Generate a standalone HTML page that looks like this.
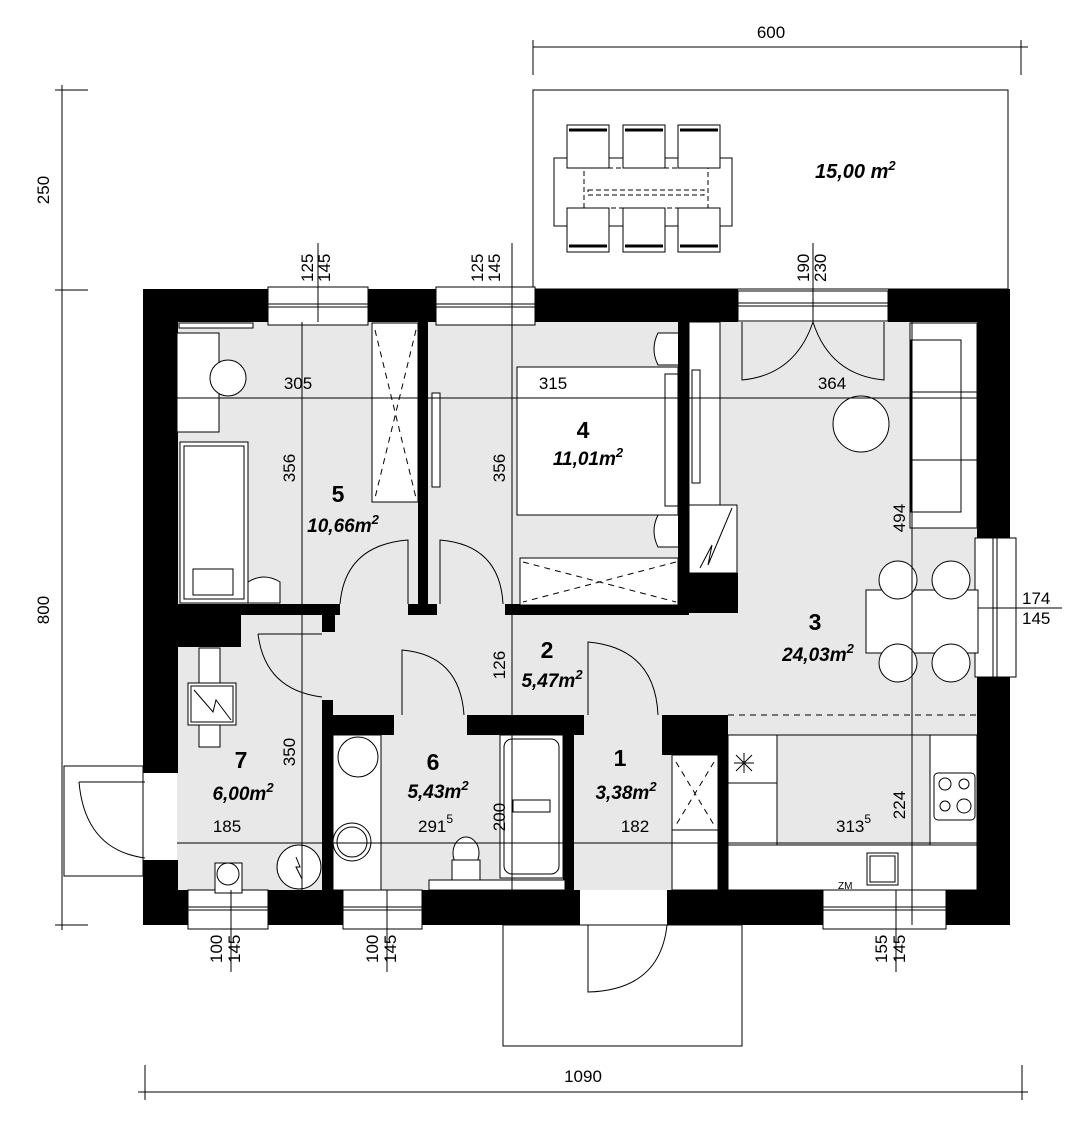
<!DOCTYPE html>
<html><head><meta charset="utf-8"><style>
html,body{margin:0;padding:0;background:#fff}
svg{display:block}
text{font-family:"Liberation Sans Narrow","Liberation Sans",sans-serif;fill:#000}
.d{font-size:17px}
.n{font-family:"Liberation Sans",sans-serif;font-weight:bold;font-size:23px}
.a{font-family:"Liberation Sans",sans-serif;font-weight:bold;font-style:italic;font-size:19px}
</style></head><body>
<svg width="1071" height="1137" viewBox="0 0 1071 1137" xmlns="http://www.w3.org/2000/svg">
<g fill="none" stroke="#000" stroke-width="1">
<rect x="533" y="90" width="475" height="199" fill="#fff"/>
<rect x="554" y="158" width="178" height="68"/>
<g fill="#fff">
<rect x="567" y="125" width="42" height="43"/><rect x="623" y="125" width="42" height="43"/><rect x="678" y="125" width="42" height="43"/>
<rect x="567" y="208" width="42" height="44"/><rect x="623" y="208" width="42" height="44"/><rect x="678" y="208" width="42" height="44"/>
</g>
<g stroke-width="3"><line x1="569" y1="130" x2="607" y2="130"/><line x1="625" y1="130" x2="663" y2="130"/><line x1="680" y1="130" x2="718" y2="130"/>
<line x1="569" y1="246" x2="607" y2="246"/><line x1="625" y1="246" x2="663" y2="246"/><line x1="680" y1="246" x2="718" y2="246"/></g>
<rect x="584" y="168" width="124" height="40" stroke-dasharray="5,3"/>
<rect x="588" y="190" width="116" height="5" stroke-dasharray="5,3"/>
<rect x="503" y="925" width="239" height="121" fill="#fff"/>
<rect x="64" y="766" width="79" height="110" fill="#fff"/>
</g>
<rect x="177" y="322" width="800" height="568" fill="#e8e8e8"/>
<g fill="#000">
<rect x="143" y="289" width="125" height="33"/>
<rect x="368" y="289" width="68" height="33"/>
<rect x="535" y="289" width="203" height="33"/>
<rect x="888" y="289" width="122" height="33"/>
<rect x="143" y="289" width="35" height="484"/>
<rect x="143" y="860" width="35" height="65"/>
<rect x="977" y="289" width="33" height="249"/>
<rect x="977" y="677" width="33" height="248"/>
<rect x="143" y="890" width="45" height="35"/>
<rect x="268" y="890" width="75" height="35"/>
<rect x="422" y="890" width="158" height="35"/>
<rect x="667" y="890" width="156" height="35"/>
<rect x="946" y="890" width="64" height="35"/>
<rect x="418" y="322" width="10" height="293"/>
<rect x="177" y="604" width="163" height="11"/>
<rect x="177" y="604" width="64" height="43"/>
<rect x="322" y="615" width="13" height="17"/>
<rect x="408" y="604" width="29" height="11"/>
<rect x="505" y="604" width="183" height="11"/>
<rect x="678" y="322" width="11" height="293"/>
<rect x="678" y="573" width="60" height="40"/>
<rect x="322" y="700" width="11" height="193"/>
<rect x="322" y="715" width="72" height="20"/>
<rect x="467" y="715" width="117" height="20"/>
<rect x="563" y="715" width="11" height="178"/>
<rect x="662" y="715" width="66" height="40"/>
<rect x="718" y="715" width="10" height="178"/>
</g>
<g fill="#fff" stroke="#000" stroke-width="1">
<rect x="268" y="287" width="100" height="38"/><line x1="268" y1="304" x2="368" y2="304"/><line x1="268" y1="307" x2="368" y2="307"/>
<rect x="436" y="287" width="99" height="38"/><line x1="436" y1="304" x2="535" y2="304"/><line x1="436" y1="307" x2="535" y2="307"/>
<rect x="738" y="291" width="150" height="30"/><line x1="738" y1="303" x2="888" y2="303"/><line x1="738" y1="306" x2="888" y2="306"/>
<rect x="975" y="538" width="41" height="139"/><line x1="993" y1="538" x2="993" y2="677"/><line x1="997" y1="538" x2="997" y2="677"/>
<rect x="188" y="890" width="80" height="39"/><line x1="188" y1="907" x2="268" y2="907"/><line x1="188" y1="910" x2="268" y2="910"/>
<rect x="343" y="890" width="79" height="39"/><line x1="343" y1="907" x2="422" y2="907"/><line x1="343" y1="910" x2="422" y2="910"/>
<rect x="823" y="890" width="123" height="39"/><line x1="823" y1="907" x2="946" y2="907"/><line x1="823" y1="910" x2="946" y2="910"/>
<rect x="179" y="323" width="74" height="5"/>
<rect x="177" y="333" width="42" height="99"/><line x1="177" y1="398" x2="219" y2="398"/>
<circle cx="228" cy="378" r="18"/>
<rect x="180" y="442" width="68" height="161"/><rect x="184" y="446" width="60" height="153"/>
<rect x="193" y="569" width="40" height="26"/>
<path d="M248 603 V582 q16 -10 32 0 V603Z"/>
<rect x="372" y="323" width="46" height="179"/>
<rect x="432" y="393" width="8" height="94"/>
<rect x="517" y="367" width="161" height="148"/><rect x="665" y="374" width="13" height="132"/>
<path d="M678 333 h-20 q-8 16 0 32 h20"/><path d="M678 515 h-20 q-8 16 0 32 h20"/>
<rect x="520" y="558" width="158" height="47"/>
<rect x="689" y="322" width="31" height="183"/>
<rect x="689" y="505" width="48" height="68"/>
<rect x="692" y="370" width="8" height="113"/>
<rect x="910" y="323" width="67" height="205"/><rect x="911" y="340" width="50" height="172"/>
<line x1="911" y1="392" x2="977" y2="392"/><line x1="911" y1="460" x2="977" y2="460"/>
<circle cx="861" cy="424" r="28"/>
<rect x="866" y="590" width="112" height="63"/>
<circle cx="898" cy="580" r="19"/><circle cx="951" cy="580" r="19"/>
<circle cx="898" cy="663" r="19"/><circle cx="951" cy="663" r="19"/>
<rect x="728" y="735" width="49" height="48"/><rect x="728" y="783" width="49" height="107"/>
<rect x="728" y="845" width="249" height="45"/>
<rect x="777" y="735" width="153" height="110" fill="#e8e8e8"/>
<rect x="930" y="735" width="47" height="110"/>
<rect x="934" y="773" width="41" height="47" rx="4"/>
<circle cx="945" cy="784" r="6"/><circle cx="964" cy="784" r="5"/><circle cx="945" cy="806" r="5"/><circle cx="964" cy="806" r="7"/>
<rect x="867" y="853" width="31" height="32"/><rect x="870" y="856" width="25" height="26"/>
<rect x="672" y="755" width="46" height="75"/><rect x="672" y="830" width="46" height="60"/>
<rect x="333" y="735" width="48" height="155"/>
<circle cx="358" cy="757" r="20"/>
<circle cx="352" cy="842" r="19"/><circle cx="352" cy="842" r="15"/>
<ellipse cx="466" cy="853" rx="13" ry="16"/><rect x="452" y="860" width="28" height="20"/>
<rect x="429" y="880" width="136" height="10"/>
<rect x="500" y="735" width="63" height="143"/><rect x="504" y="739" width="55" height="135" rx="8"/>
<rect x="513" y="800" width="37" height="12"/>
<rect x="199" y="648" width="21" height="99"/>
<rect x="188" y="683" width="48" height="42"/><rect x="191" y="686" width="42" height="36"/>
<circle cx="299" cy="867" r="22"/>
<rect x="215" y="863" width="27" height="30"/><circle cx="228" cy="874" r="11"/>
</g>
<g stroke="#000" fill="none" stroke-width="1">
<path d="M194 690 L213 712 L216 700 L231 720"/>
<path d="M732 508 L708 565 L712 545 L700 568"/>
<path d="M296 857 L300 867 L296 867 L302 879"/>
<g stroke-dasharray="6,5">
<path d="M375 330 L416 498 M416 330 L375 498"/>
<path d="M523 562 L676 602 M676 562 L523 602"/>
<path d="M676 762 L714 825 M714 762 L676 825"/>
<line x1="728" y1="715" x2="977" y2="715"/>
<line x1="790" y1="735" x2="930" y2="735"/>
</g>
<line x1="736" y1="755" x2="752" y2="771"/><line x1="752" y1="755" x2="736" y2="771"/><line x1="744" y1="753" x2="744" y2="773"/><line x1="734" y1="763" x2="754" y2="763"/>
<path d="M742 322 V380 Q795 375 813 322"/>
<path d="M884 322 V380 Q830 375 813 322"/>
<path d="M408 604 V540 Q345 545 340 604"/>
<path d="M440 604 V540 Q500 545 503 604"/>
<path d="M258 634 H322 M258 634 Q265 690 322 697"/>
<path d="M402 715 V650 Q460 655 464 715"/>
<path d="M588 715 V642 Q655 648 658 715"/>
<path d="M588 925 V992 Q660 990 667 925"/>
<path d="M79 782 H145 M79 782 Q85 850 145 858"/>
<line x1="177" y1="398" x2="977" y2="398"/>
<line x1="177" y1="843" x2="977" y2="843"/>
<line x1="302" y1="322" x2="302" y2="890"/>
<line x1="512" y1="243" x2="512" y2="890"/>
<line x1="912" y1="322" x2="912" y2="925"/>
<line x1="318" y1="243" x2="318" y2="322"/>
<line x1="813" y1="243" x2="813" y2="322"/>
<line x1="231" y1="890" x2="231" y2="972"/>
<line x1="387" y1="890" x2="387" y2="972"/>
<line x1="896" y1="890" x2="896" y2="972"/>
<line x1="978" y1="608" x2="1062" y2="608"/>
<line x1="533" y1="47" x2="1028" y2="47"/><line x1="533" y1="40" x2="533" y2="75"/><line x1="1021" y1="40" x2="1021" y2="75"/>
<line x1="62" y1="85" x2="62" y2="930"/>
<line x1="55" y1="90" x2="88" y2="90"/><line x1="55" y1="290" x2="88" y2="290"/><line x1="55" y1="925" x2="88" y2="925"/>
<line x1="138" y1="1092" x2="1028" y2="1092"/><line x1="145" y1="1065" x2="145" y2="1100"/><line x1="1022" y1="1065" x2="1022" y2="1100"/>
</g>
<text class="d" x="771" y="38" text-anchor="middle">600</text>
<text class="d" x="583" y="1082" text-anchor="middle">1090</text>
<text class="d" transform="translate(49,190) rotate(-90)" text-anchor="middle">250</text>
<text class="d" transform="translate(49,610) rotate(-90)" text-anchor="middle">800</text>
<text style="font-family:'Liberation Sans',sans-serif;font-weight:bold;font-style:italic;font-size:20px" x="815" y="178">15,00 m<tspan dy="-8" font-size="13">2</tspan></text>
<g class="d" font-size="15">
<text transform="translate(313,282) rotate(-90)">125</text><text transform="translate(330,282) rotate(-90)">145</text>
<text transform="translate(483,282) rotate(-90)">125</text><text transform="translate(500,282) rotate(-90)">145</text>
<text transform="translate(809,282) rotate(-90)">190</text><text transform="translate(826,282) rotate(-90)">230</text>
<text transform="translate(222,963) rotate(-90)">100</text><text transform="translate(240,963) rotate(-90)">145</text>
<text transform="translate(378,963) rotate(-90)">100</text><text transform="translate(396,963) rotate(-90)">145</text>
<text transform="translate(887,963) rotate(-90)">155</text><text transform="translate(905,963) rotate(-90)">145</text>
<text x="1022" y="604">174</text><text x="1022" y="624">145</text>
</g>
<text class="d" x="298" y="389" text-anchor="middle">305</text>
<text class="d" x="553" y="389" text-anchor="middle">315</text>
<text class="d" x="832" y="389" text-anchor="middle">364</text>
<text class="d" transform="translate(295,468) rotate(-90)" text-anchor="middle">356</text>
<text class="d" transform="translate(505,468) rotate(-90)" text-anchor="middle">356</text>
<text class="d" transform="translate(905,518) rotate(-90)" text-anchor="middle">494</text>
<text class="d" transform="translate(505,665) rotate(-90)" text-anchor="middle">126</text>
<text class="d" transform="translate(295,752) rotate(-90)" text-anchor="middle">350</text>
<text class="d" transform="translate(505,817) rotate(-90)" text-anchor="middle">200</text>
<text class="d" transform="translate(905,805) rotate(-90)" text-anchor="middle">224</text>
<text class="d" x="227" y="832" text-anchor="middle">185</text>
<text class="d" x="418" y="832">291<tspan dy="-9" font-size="12">5</tspan></text>
<text class="d" x="635" y="832" text-anchor="middle">182</text>
<text class="d" x="836" y="832">313<tspan dy="-9" font-size="12">5</tspan></text>
<text class="n" x="338" y="502" text-anchor="middle">5</text>
<text class="a" x="343" y="532" text-anchor="middle">10,66m<tspan dy="-8" font-size="13">2</tspan></text>
<text class="n" x="583" y="438" text-anchor="middle">4</text>
<text class="a" x="588" y="465" text-anchor="middle">11,01m<tspan dy="-8" font-size="13">2</tspan></text>
<text class="n" x="815" y="630" text-anchor="middle">3</text>
<text class="a" x="818" y="661" text-anchor="middle">24,03m<tspan dy="-8" font-size="13">2</tspan></text>
<text class="n" x="547" y="658" text-anchor="middle">2</text>
<text class="a" x="552" y="687" text-anchor="middle">5,47m<tspan dy="-8" font-size="13">2</tspan></text>
<text class="n" x="433" y="770" text-anchor="middle">6</text>
<text class="a" x="438" y="798" text-anchor="middle">5,43m<tspan dy="-8" font-size="13">2</tspan></text>
<text class="n" x="620" y="766" text-anchor="middle">1</text>
<text class="a" x="626" y="799" text-anchor="middle">3,38m<tspan dy="-8" font-size="13">2</tspan></text>
<text class="n" x="241" y="768" text-anchor="middle">7</text>
<text class="a" x="243" y="800" text-anchor="middle">6,00m<tspan dy="-8" font-size="13">2</tspan></text>
<text style="font-size:10px" x="838" y="889">ZM</text>
</svg>
</body></html>
